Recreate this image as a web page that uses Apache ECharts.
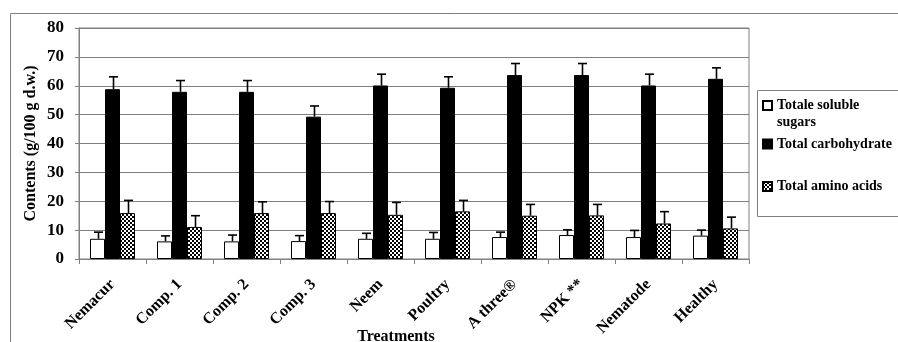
<!DOCTYPE html>
<html>
<head>
<meta charset="utf-8">
<script src="https://cdn.jsdelivr.net/npm/echarts@6/dist/echarts.min.js"></script>
<style>
html,body{margin:0;padding:0;background:#fff;}
#chart{width:898px;height:342px;}
</style>
</head>
<body>
<div id="chart"></div>
<script>
const categories = ['Nemacur','Comp. 1','Comp. 2','Comp. 3','Neem','Poultry','A three®','NPK **','Nematode','Healthy'];
const seriesNames = ['Totale soluble sugars','Total carbohydrate','Total amino acids'];
const sugars = [7.0, 6.1, 6.1, 6.2, 7.0, 7.0, 7.6, 8.3, 7.6, 8.1];
const sugarsErr = [2.3, 1.9, 2.2, 1.9, 1.9, 2.2, 1.7, 1.8, 2.3, 1.9];
const carbs = [58.8, 57.9, 57.9, 49.3, 60.1, 59.3, 63.7, 63.7, 60.1, 62.4];
const carbsErr = [4.3, 3.9, 3.9, 3.7, 3.9, 3.8, 4.0, 4.0, 3.9, 3.8];
const amino = [15.9, 11.1, 15.9, 15.9, 15.3, 16.5, 15.0, 15.1, 12.3, 10.6];
const aminoErr = [4.4, 3.9, 3.9, 4.0, 4.3, 3.8, 3.9, 3.8, 4.1, 3.9];
const yTicks = {min: 0, max: 80, interval: 10};

const FONT = 'Liberation Serif';
const BAR_W = 15;

// checker pattern for amino acids
const pc = document.createElement('canvas');
pc.width = 4; pc.height = 4;
const pctx = pc.getContext('2d');
pctx.fillStyle = '#fff'; pctx.fillRect(0,0,4,4);
pctx.fillStyle = '#000';
pctx.fillRect(0,0,2,2); pctx.fillRect(2,2,2,2);

const chart = echarts.init(document.getElementById('chart'), null, {renderer:'canvas'});

function errSeries(means, errs, idx){
  return {
    type: 'custom',
    z: 5,
    silent: true,
    data: means.map((m,i)=>[i, m, errs[i]]),
    renderItem: function(params, api){
      const x = api.value(0), m = api.value(1), e = api.value(2);
      const b = api.coord([x, m]);
      const t = api.coord([x, m + e]);
      const cx = Math.round(b[0] + (idx - 1) * BAR_W) + 0.5;
      const style = {stroke:'#000', lineWidth:1.6};
      return {
        type:'group',
        children:[
          {type:'line', shape:{x1:cx, y1:b[1], x2:cx, y2:t[1]}, style:style},
          {type:'line', shape:{x1:cx-4.5, y1:t[1], x2:cx+4.5, y2:t[1]}, style:style}
        ]
      };
    }
  };
}

const legendText = {fontFamily: FONT, fontWeight:'bold', fontSize:14, color:'#000'};

const option = {
  backgroundColor:'#fff',
  animation:false,
  grid:{left:79, top:28, right:149, bottom:83, show:true, borderColor:'#808080', borderWidth:1, outerBoundsMode:'none', containLabel:false},
  legend:[
    {data:[seriesNames[0]], orient:'vertical', left:762, top:80, padding:0, itemWidth:9, itemHeight:9, icon:'rect',
     formatter:()=> '\nTotale soluble\nsugars', textStyle:Object.assign({lineHeight:17}, legendText), selectedMode:false},
    {data:[seriesNames[1]], orient:'vertical', left:762, top:136, padding:0, itemWidth:9, itemHeight:9, icon:'rect',
     textStyle:Object.assign({lineHeight:16}, legendText), selectedMode:false},
    {data:[seriesNames[2]], orient:'vertical', left:762, top:178.5, padding:0, itemWidth:9, itemHeight:9, icon:'rect',
     textStyle:Object.assign({lineHeight:16}, legendText), selectedMode:false}
  ],
  xAxis:{
    type:'category', data:categories,
    axisLine:{lineStyle:{color:'#808080', width:1}},
    axisTick:{show:true, length:5, lineStyle:{color:'#808080'}},
    axisLabel:{rotate:45, margin:23, fontFamily:FONT, fontWeight:'bold', fontSize:16, color:'#000', interval:0},
    name:'Treatments', nameLocation:'middle', nameGap:70, nameMoveOverlap:false,
    nameTextStyle:{fontFamily:FONT, fontWeight:'bold', fontSize:16, color:'#000', padding:[0,36,0,0]}
  },
  yAxis:{
    type:'value', min:yTicks.min, max:yTicks.max, interval:yTicks.interval,
    axisLine:{show:true, lineStyle:{color:'#808080'}},
    axisTick:{show:true, length:4, lineStyle:{color:'#808080'}},
    splitLine:{lineStyle:{color:'#808080', width:1}},
    axisLabel:{margin:15, fontFamily:FONT, fontWeight:'bold', fontSize:17, color:'#000'},
    name:'Contents (g/100 g d.w.)', nameLocation:'middle', nameGap:40, nameMoveOverlap:false,
    nameTextStyle:{fontFamily:FONT, fontWeight:'bold', fontSize:16, color:'#000'}
  },
  series:[
    {name:seriesNames[0], type:'bar', data:sugars, barWidth:BAR_W, barGap:'0%',
     itemStyle:{color:'#fff', borderColor:'#000', borderWidth:1}},
    {name:seriesNames[1], type:'bar', data:carbs, barWidth:BAR_W, barGap:'0%',
     itemStyle:{color:'#000', borderColor:'#000', borderWidth:1}},
    {name:seriesNames[2], type:'bar', data:amino, barWidth:BAR_W, barGap:'0%',
     itemStyle:{color:{image:pc, repeat:'repeat'}, borderColor:'#000', borderWidth:1}},
    errSeries(sugars, sugarsErr, 0),
    errSeries(carbs, carbsErr, 1),
    errSeries(amino, aminoErr, 2)
  ],
  graphic:[
    {type:'line', shape:{x1:10.5, y1:13.5, x2:898, y2:13.5}, style:{stroke:'#808080', lineWidth:1}, silent:true},
    {type:'line', shape:{x1:10.5, y1:13.5, x2:10.5, y2:342}, style:{stroke:'#808080', lineWidth:1}, silent:true},
    {type:'rect', shape:{x:757.5, y:90.5, width:200, height:126}, style:{fill:'none', stroke:'#808080', lineWidth:1}, silent:true, z:-1}
  ]
};
chart.setOption(option);
</script>
</body>
</html>
